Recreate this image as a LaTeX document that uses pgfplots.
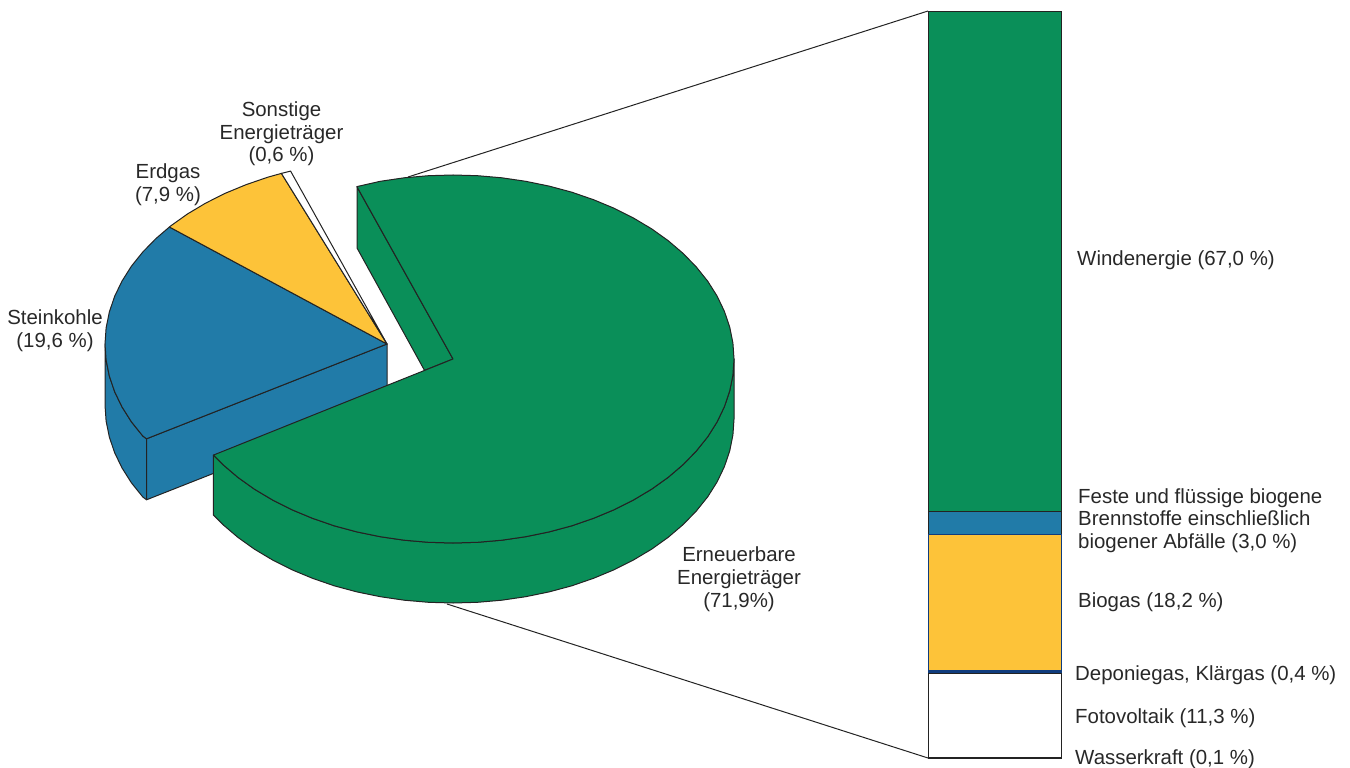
\documentclass[border=0pt]{standalone}
\usepackage{pgfplots}
\pgfplotsset{compat=1.18}
\usepackage{fontspec}
\setmainfont{Liberation Sans}
\definecolor{cgreen}{RGB}{10,143,89}
\definecolor{cblue}{RGB}{33,123,168}
\definecolor{cyellow}{RGB}{253,195,57}
\definecolor{cnavy}{RGB}{16,60,125}
\definecolor{cline}{RGB}{35,35,35}
\definecolor{ctext}{RGB}{40,40,40}
\newcommand{\lab}{\fontsize{20.5}{22.8}\selectfont}
\begin{document}
\begin{tikzpicture}[x=1bp,y=1bp]
\useasboundingbox (0,0) rectangle (1350,767);
\begin{axis}[
  at={(0,0)},anchor=south west,scale only axis,
  width=1350bp,height=767bp,
  xmin=0,xmax=1350,ymin=0,ymax=767,y dir=reverse,
  hide axis,clip=false,
  every axis plot/.append style={line width=1bp,line join=round,no markers,sharp plot}
]
% connector lines
\addplot[draw=cline] coordinates {(408,177) (928,11)};
\addplot[draw=cline] coordinates {(447,604) (928,758)};
% Steinkohle: side faces
\addplot[fill=cblue,draw=cline] coordinates {(105,344) (106.1,360) (109.3,375.9) (114.6,391.6) (122,406.9) (131.4,421.8) (142.8,436) (146.5,438.8)
 (146.5,499.8) (142.8,497) (131.4,482.8) (122,467.9) (114.6,452.6) (109.3,436.9) (106.1,421) (105,405)} --cycle;
\addplot[fill=cblue,draw=cline] coordinates {(387,344) (146.5,438.8) (146.5,499.8) (387,405)} --cycle;
% Steinkohle: top
\addplot[fill=cblue,draw=cline] coordinates {(387,344) (169.4,227) (156,238.5) (142.8,252) (131.4,266.2) (122,281.1) (114.6,296.4) (109.3,312.1) (106.1,328) (105,344)
 (106.1,360) (109.3,375.9) (114.6,391.6) (122,406.9) (131.4,421.8) (142.8,436) (146.5,438.8)} --cycle;
% Erdgas
\addplot[fill=cyellow,draw=cline] coordinates {(387,344) (281.4,173.4) (267.8,177.2) (246,184.7) (225.2,193.3) (205.7,203.1) (187.6,213.9) (171,225.7) (169.4,227)} --cycle;
% Sonstige
\addplot[fill=white,draw=cline] coordinates {(387,344) (290.6,171.1) (281.4,173.4)} --cycle;
% Erneuerbare: inner side
\addplot[fill=cgreen,draw=cline] coordinates {(357,187) (453,359) (424.5,370.4) (357,248)} --cycle;
% Erneuerbare: outer side
\addplot[fill=cgreen,draw=cline] coordinates {(734,359) (732.9,375) (729.7,390.9) (724.4,406.6) (717.1,421.9) (707.7,436.8) (696.3,451) (683.2,464.5) (668.2,477.3) (651.7,489.1) (633.6,499.9) (614.2,509.7) (593.5,518.3) (571.8,525.8) (549.1,531.9) (525.7,536.7) (501.8,540.2) (477.5,542.3) (453,543) (428.5,542.3) (404.2,540.2) (380.3,536.7) (356.9,531.9) (334.2,525.8) (312.5,518.3) (291.8,509.7) (272.4,499.9) (254.3,489.1) (237.8,477.3) (222.8,464.5) (213.4,455.1)
 (213.4,515.1) (222.8,524.5) (237.8,537.3) (254.3,549.1) (272.4,559.9) (291.8,569.7) (312.5,578.3) (334.2,585.8) (356.9,591.9) (380.3,596.7) (404.2,600.2) (428.5,602.3) (453,603) (477.5,602.3) (501.8,600.2) (525.7,596.7) (549.1,591.9) (571.8,585.8) (593.5,578.3) (614.2,569.7) (633.6,559.9) (651.7,549.1) (668.2,537.3) (683.2,524.5) (696.3,511) (707.7,496.8) (717.1,481.9) (724.4,466.6) (729.7,450.9) (732.9,435) (734,419)} --cycle;
% Erneuerbare: top
\addplot[fill=cgreen,draw=cline] coordinates {(453,359) (356.9,186.6) (380.3,181.3) (404.2,177.8) (428.5,175.7) (453,175) (477.5,175.7) (501.8,177.8) (525.7,181.3) (549.1,186.1) (571.8,192.2) (593.5,199.7) (614.2,208.3) (633.6,218.1) (651.7,228.9) (668.2,240.7) (683.2,253.5) (696.3,267) (707.7,281.2) (717.1,296.1) (724.4,311.4) (729.7,327.1) (732.9,343) (734,359)
 (732.9,375) (729.7,390.9) (724.4,406.6) (717.1,421.9) (707.7,436.8) (696.3,451) (683.2,464.5) (668.2,477.3) (651.7,489.1) (633.6,499.9) (614.2,509.7) (593.5,518.3) (571.8,525.8) (549.1,531.9) (525.7,536.7) (501.8,540.2) (477.5,542.3) (453,543) (428.5,542.3) (404.2,540.2) (380.3,536.7) (356.9,531.9) (334.2,525.8) (312.5,518.3) (291.8,509.7) (272.4,499.9) (254.3,489.1) (237.8,477.3) (222.8,464.5) (213.4,455.1)} --cycle;
% Labels
\begin{scope}[every node/.style={font=\lab,text=ctext,inner sep=0pt}]
\node[align=center] at (axis cs:281.5,134) {Sonstige\\Energieträger\\(0,6 \%)};
\node[align=center] at (axis cs:168,184.5) {Erdgas\\(7,9 \%)};
\node[align=center] at (axis cs:55,330.5) {Steinkohle\\(19,6 \%)};
\node[align=center] at (axis cs:739,579) {Erneuerbare\\Energieträger\\(71,9\%)};
\node[anchor=west] at (axis cs:1077,260) {Windenergie (67,0 \%)};
\node[anchor=west,align=left] at (axis cs:1078,520.5) {Feste und flüssige biogene\\Brennstoffe einschließlich\\biogener Abfälle (3,0 \%)};
\node[anchor=west] at (axis cs:1078,602) {Biogas (18,2 \%)};
\node[anchor=west] at (axis cs:1075,675) {Deponiegas, Klärgas (0,4 \%)};
\node[anchor=west] at (axis cs:1075,718) {Fotovoltaik (11,3 \%)};
\node[anchor=west] at (axis cs:1075,759) {Wasserkraft (0,1 \%)};
\end{scope}
\end{axis}
\begin{axis}[
  at={(928bp,8.5bp)},anchor=south west,scale only axis,
  width=133bp,height=747bp,
  xmin=-0.5,xmax=0.5,ymin=0,ymax=100,
  hide axis,clip=false,
  ybar stacked,bar width=133bp,
  every axis plot/.append style={line width=1bp,draw=cline}
]
\addplot[fill=white,draw=cline] coordinates {(0,0.1)};
\addplot[fill=white,draw=cline] coordinates {(0,11.3)};
\addplot[fill=cnavy,draw=cnavy] coordinates {(0,0.4)};
\addplot[fill=cyellow,draw=cnavy] coordinates {(0,18.2)};
\addplot[fill=cblue,draw=cline] coordinates {(0,3.0)};
\addplot[fill=cgreen,draw=cline] coordinates {(0,67.0)};
\end{axis}
\end{tikzpicture}
\end{document}
